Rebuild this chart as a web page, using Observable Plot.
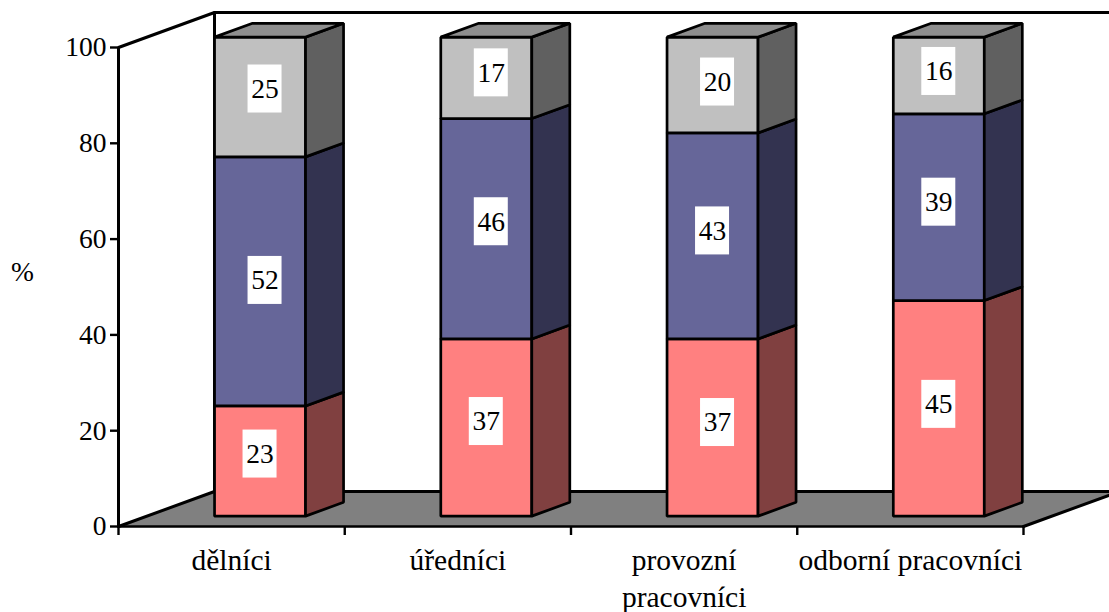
<!DOCTYPE html>
<html><head><meta charset="utf-8">
<script src="https://cdn.jsdelivr.net/npm/d3@7"></script>
<script src="https://cdn.jsdelivr.net/npm/@observablehq/plot@0.6"></script>
<style>html,body{margin:0;padding:0;background:#fff;overflow:hidden}</style>
</head><body><div id="chart"></div>
<script>
const categories = ["dělníci", "úředníci", "provozní\npracovníci", "odborní pracovníci"];
const lower  = [23, 37, 37, 45];
const middle = [52, 46, 43, 39];
const upper  = [25, 17, 20, 16];
const yTicks = [0, 20, 40, 60, 80, 100];
const yUnit = "%";

// styles and layout
const frontColors = ["#FF8080", "#666699", "#C0C0C0"];
const sideColors  = ["#804040", "#333350", "#606060"];
const topColor = "#8E8E8E", floorColor = "#808080";
const FONT = "Liberation Serif", FS = 27.5, CAT_FS = 29.5;
const W = 1109, H = 612, ML = 118, MR = 86, MT = 47, MB = 86;
const xPx = (W - ML - MR) / categories.length;  // pixels per category
const yPx = (H - MT - MB) / 100;                // pixels per percent
const depthX = 96 / xPx, depthY = 35 / yPx;     // oblique projection of full depth
const barW = 91 / xPx, z0 = 0.296, z1 = 0.692;
const boxW = 34 / xPx, boxH = 48 / yPx;
const labelNudgeX = [[0, 5, 5], [0, 5, 5], [5, 0, 5], [0, 0, 0]];
const labelNudgeY = [[7, 1, 8], [6, 7, 5], [5, 5, 3], [4, 5, 4]];

const P = (x, y, z) => ({x: x + z * depthX, y: y + z * depthY});
const polys = [];
let pid = 0;
const poly = (fill, pts) => { const id = pid++; pts.forEach(p => polys.push({id, fill, x: p.x, y: p.y})); };

// floor
const X = categories.length;
poly(floorColor, [P(0, 0, 0), P(0, 0, 1), P(X, 0, 1), P(X, 0, 0)]);

const boxes = [], labels = [];
categories.forEach((_, i) => {
  const l = i + 0.5 - barW / 2, r = l + barW;
  const vals = [lower[i], middle[i], upper[i]];
  let base = 0;
  vals.forEach((v, k) => {
    const top = base + v;
    poly(frontColors[k], [P(l, base, z0), P(r, base, z0), P(r, top, z0), P(l, top, z0)]);
    poly(sideColors[k], [P(r, base, z0), P(r, base, z1), P(r, top, z1), P(r, top, z0)]);
    if (k === vals.length - 1) poly(topColor, [P(l, top, z0), P(r, top, z0), P(r, top, z1), P(l, top, z1)]);
    const cx = P(i + 0.5, 0, z0).x + labelNudgeX[i][k] / xPx;
    const cy = P(0, base + v / 2, z0).y + labelNudgeY[i][k] / yPx;
    boxes.push({x1: cx - boxW / 2, x2: cx + boxW / 2, y1: cy - boxH / 2, y2: cy + boxH / 2});
    labels.push({x: cx, y: cy, v});
    base = top;
  });
});

const wall = [P(0, 0, 0), P(0, 100, 0), P(0, 100, 1), P(X, 100, 1)];
const backEdge = [P(0, 100, 1), P(0, 0, 1), P(X, 0, 1), P(X, 0, 0)];
const floorLeft = [P(0, 0, 0), P(0, 0, 1)];
const frontEdge = [P(0, 0, 0), P(X, 0, 0)];
const line = (d, sw = 3) => Plot.line(d, {x: "x", y: "y", stroke: "black", strokeWidth: sw, strokeLinejoin: "miter"});

const chart = Plot.plot({
  width: W, height: H, marginLeft: ML, marginRight: MR, marginTop: MT, marginBottom: MB,
  style: {fontFamily: FONT, background: "#fff", color: "#000"},
  x: {domain: [0, X], label: null},
  y: {domain: [0, 100], label: null},
  color: {type: "identity"},
  marks: [
    Plot.line(polys.slice(0, 4), {x: "x", y: "y", z: "id", fill: "fill", curve: "linear-closed", stroke: "none"}),
    line(wall), line(backEdge), line(floorLeft), line(frontEdge, 2.4),
    Plot.line(polys.slice(4), {x: "x", y: "y", z: "id", fill: "fill", stroke: "black", strokeWidth: 2.7, curve: "linear-closed", strokeLinejoin: "miter"}),
    Plot.axisY({ticks: yTicks, tickSize: 8, tickPadding: 4, strokeWidth: 2.4, fontSize: FS, tickFormat: d => d, label: null}),
    Plot.axisX({ticks: d3.range(X + 1), tickSize: 9, strokeWidth: 2.4, tickFormat: () => "", label: null}),
    Plot.rect(boxes, {x1: "x1", x2: "x2", y1: "y1", y2: "y2", fill: "white"}),
    Plot.text(labels, {x: "x", y: "y", text: d => String(d.v), fontSize: FS, fill: "black"}),
    Plot.text(categories, {x: (d, i) => i + 0.5, y: 0, text: d => d, dy: 17, lineAnchor: "top", lineHeight: 1.25, fontSize: CAT_FS, fill: "black"}),
    Plot.text([yUnit], {x: -depthX, y: 53, text: d => d, fontSize: FS, fill: "black"})
  ]
});
document.getElementById("chart").appendChild(chart);
</script></body></html>
